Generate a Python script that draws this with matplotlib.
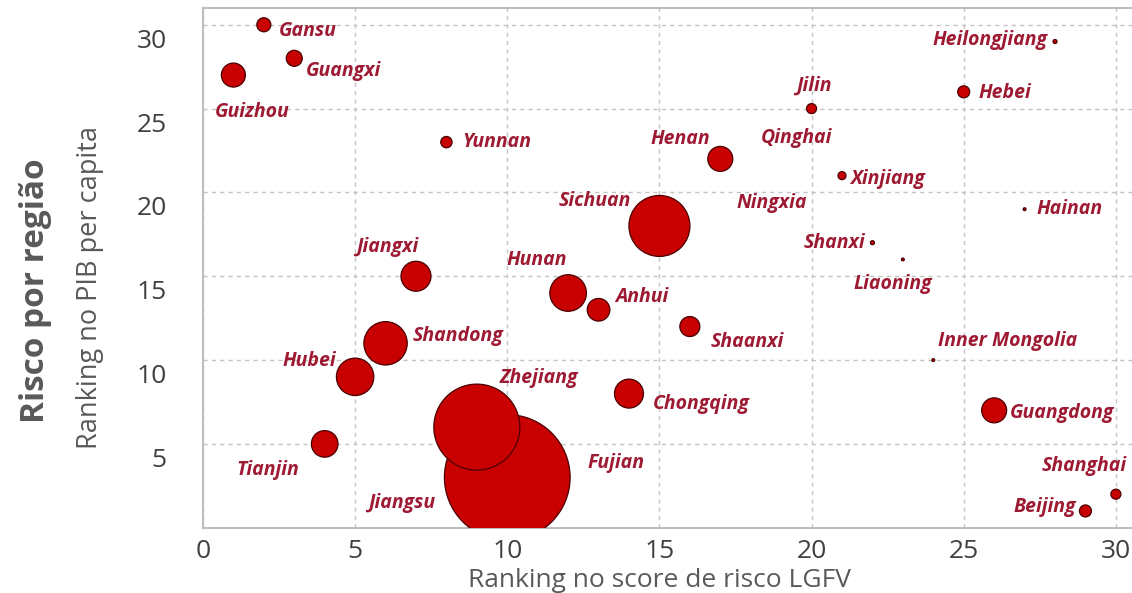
import matplotlib
matplotlib.use("Agg")
import matplotlib.pyplot as plt
import matplotlib.transforms as mtransforms
import numpy as np

# Dados: ranking no score de risco LGFV (x), ranking no PIB per capita (y)
provincias = ["Gansu", "Guangxi", "Guizhou", "Yunnan", "Sichuan", "Jiangxi",
              "Hunan", "Anhui", "Shandong", "Hubei", "Zhejiang", "Jiangsu",
              "Fujian", "Tianjin", "Chongqing", "Shaanxi", "Henan", "Ningxia",
              "Qinghai", "Jilin", "Xinjiang", "Shanxi", "Liaoning",
              "Inner Mongolia", "Hebei", "Guangdong", "Hainan", "Heilongjiang",
              "Beijing", "Shanghai"]
rank_lgfv = [2, 3, 1, 8, 15, 7, 12, 13, 6, 5, 9, 10, 11, 4, 14, 16, 17, 18,
             19, 20, 21, 22, 23, 24, 25, 26, 27, 28, 29, 30]
rank_pib = [30, 28, 27, 23, 18, 15, 14, 13, 11, 9, 6, 3, 4, 5, 8, 12, 22, 20,
            24, 25, 21, 17, 16, 10, 26, 7, 19, 29, 1, 2]
# tamanho relativo da bolha (proporcional à área)
tamanho = [49, 64, 144, 32, 930, 225, 335, 128, 470, 350, 1850, 3950, 0, 177,
           210, 100, 156, 0, 0, 25, 16, 4, 2, 2, 36, 156, 2, 4, 36, 25]

# posição dos rótulos em pixels (dx para a direita, dy para baixo) e alinhamento
rotulos = {
    "Gansu": (15, 6, "left"), "Guangxi": (12, 13, "left"),
    "Guizhou": (19, 37, "center"), "Yunnan": (16, 0, "left"),
    "Sichuan": (-28, -25, "right"), "Jiangxi": (-29, -29, "center"),
    "Hunan": (-31, -33, "center"), "Anhui": (17, -13, "left"),
    "Shandong": (27, -7, "left"), "Hubei": (-19, -16, "right"),
    "Zhejiang": (62, -49, "center"), "Jiangsu": (-106, 26, "center"),
    "Fujian": (50, 2, "left"), "Tianjin": (-57, 26, "center"),
    "Chongqing": (24, 10, "left"), "Shaanxi": (21, 15, "left"),
    "Henan": (-10, -20, "right"), "Ningxia": (21, 11, "center"),
    "Qinghai": (15, 13, "center"), "Jilin": (2, -23, "center"),
    "Xinjiang": (8, 3, "left"), "Shanxi": (-7, 0, "right"),
    "Liaoning": (-10, 25, "center"), "Inner Mongolia": (5, -19, "left"),
    "Hebei": (15, 1, "left"), "Guangdong": (16, 3, "left"),
    "Hainan": (12, 0, "left"), "Heilongjiang": (-8, -2, "right"),
    "Beijing": (-9, -4, "right"), "Shanghai": (11, -28, "right"),
}

plt.rcParams['font.family'] = ['Open Sans', 'DejaVu Sans']

fig = plt.figure(figsize=(11.32, 5.93), dpi=100)
ax = fig.add_axes([0.1793, 0.1101, 0.8207, 0.8764])

px = 0.72  # pontos por pixel a 100 dpi
ordem = np.argsort(tamanho)[::-1]
x = np.array(rank_lgfv)[ordem]
y = np.array(rank_pib)[ordem]
s = np.array(tamanho, dtype=float)[ordem] * (2 * px) ** 2
ax.scatter(x, y, s=s, c='#C80000', edgecolors='#4A0000', linewidths=0.9,
           zorder=3, clip_on=True)

for nome, xi, yi in zip(provincias, rank_lgfv, rank_pib):
    dx, dy, ha = rotulos[nome]
    ax.annotate(nome, (xi, yi), xytext=(dx * px, -dy * px),
                textcoords='offset points', ha=ha, va='center',
                fontsize=14, fontweight='bold', fontstyle='italic',
                fontstretch='normal', color='#9E1A33', zorder=4)

ax.set_xlim(0, 30.53)
ax.set_ylim(0, 31.0)
ax.set_xticks([0, 5, 10, 15, 20, 25, 30])
ax.set_yticks([5, 10, 15, 20, 25, 30])
ax.tick_params(axis='both', length=0, labelsize=19, labelcolor='#404040')
ax.tick_params(axis='x', pad=8)
ax.tick_params(axis='y', pad=26)
desce = mtransforms.ScaledTranslation(0, -4 / 100, fig.dpi_scale_trans)
for lbl in ax.get_yticklabels():
    lbl.set_verticalalignment('top')
    lbl.set_transform(lbl.get_transform() + desce)

ax.grid(True, color='#C4C4C4', linestyle=(0, (3, 3)), linewidth=1.0, zorder=0)
for side in ['left', 'bottom', 'top']:
    ax.spines[side].set_color('#BFBFBF')
    ax.spines[side].set_linewidth(1.5)
ax.spines['right'].set_visible(False)

fig.text(0.5830, 0.0, 'Ranking no score de risco LGFV', ha='center',
         va='bottom', fontsize=19, color='#595959')
fig.text(0.031, 0.509, 'Risco por região', rotation=90, ha='center',
         va='center', fontsize=24, fontweight='bold', color='#595959')
fig.text(0.0795, 0.516, 'Ranking no PIB per capita', rotation=90,
         ha='center', va='center', fontsize=19.5, color='#595959')

fig.savefig('out.png', dpi=100)
